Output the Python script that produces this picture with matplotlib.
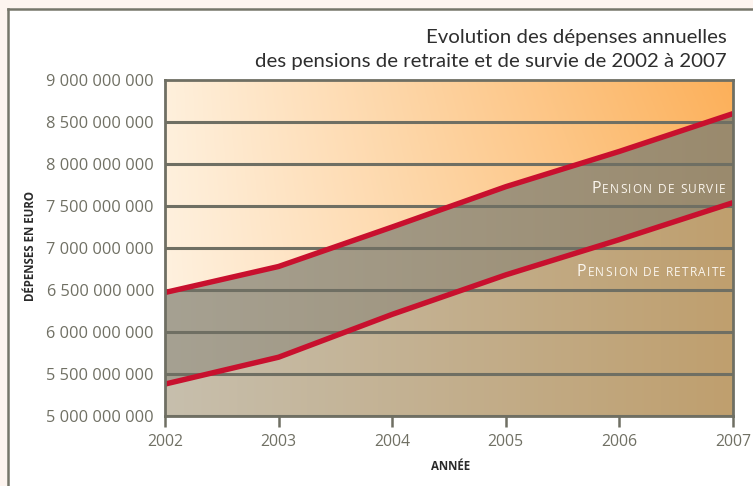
import matplotlib
matplotlib.use('Agg')
import matplotlib.pyplot as plt
import numpy as np
from matplotlib.patches import Polygon, Rectangle
from matplotlib.lines import Line2D
from matplotlib.colors import to_rgb

years = [2002, 2003, 2004, 2005, 2006, 2007]
survie = [6.47e9, 6.78e9, 7.25e9, 7.73e9, 8.15e9, 8.60e9]
retraite = [5.38e9, 5.70e9, 6.21e9, 6.68e9, 7.10e9, 7.54e9]
y_ticks = [5.0e9, 5.5e9, 6.0e9, 6.5e9, 7.0e9, 7.5e9, 8.0e9, 8.5e9, 9.0e9]
y_tick_labels = ['5 000 000 000', '5 500 000 000', '6 000 000 000', '6 500 000 000',
                 '7 000 000 000', '7 500 000 000', '8 000 000 000', '8 500 000 000',
                 '9 000 000 000']
title_lines = ['Evolution des dépenses annuelles',
               'des pensions de retraite et de survie de 2002 à 2007']

W, H = 753, 486
plt.rcParams['font.family'] = ['Open Sans', 'DejaVu Sans']
LATO = ['Lato', 'DejaVu Sans']

fig = plt.figure(figsize=(W / 100, H / 100), dpi=100)
fig.patch.set_facecolor('#fdf4ef')
fig.add_artist(Rectangle((8 / W, 0), 1, 1 - 9 / H, transform=fig.transFigure,
                         facecolor='white', edgecolor='none', zorder=-10))
bc = '#76766a'
fig.add_artist(Line2D([8 / W, 8 / W], [0, 1 - 9 / H], transform=fig.transFigure,
                      color=bc, lw=1.8))
fig.add_artist(Line2D([8 / W, 1], [1 - 9 / H, 1 - 9 / H], transform=fig.transFigure,
                      color=bc, lw=1.8))

ax = fig.add_axes([165 / W, 1 - 416 / H, (733 - 165) / W, (416 - 80) / H])
x0, x1 = years[0], years[-1]
y0, y1 = y_ticks[0], y_ticks[-1]
ax.set_xlim(x0, x1)
ax.set_ylim(y0, y1)


def grad(c_left, c_right, c_tl=None, c_tr=None, n=256):
    cl = np.array(to_rgb(c_left)); cr = np.array(to_rgb(c_right))
    t = np.linspace(0, 1, n)
    row = cl[None, :] * (1 - t[:, None]) + cr[None, :] * t[:, None]
    arr = np.repeat(row[None, :, :], n, axis=0)
    if c_tl is not None:
        ctl = np.array(to_rgb(c_tl)); ctr = np.array(to_rgb(c_tr))
        rowt = ctl[None, :] * (1 - t[:, None]) + ctr[None, :] * t[:, None]
        v = np.linspace(0, 1, n)[:, None, None]
        arr = arr * (1 - v) + rowt[None, :, :] * v
    return arr

ext = [x0, x1, y0, y1]
bg = grad('#fff1e0', '#fdc27a', '#fff0dc', '#fcb05a')
ax.imshow(bg, extent=ext, origin='lower', aspect='auto', zorder=0)

poly_s = Polygon(list(zip(years, survie)) + [(x1, y0), (x0, y0)], closed=True,
                 transform=ax.transData)
im2 = ax.imshow(grad('#a6a192', '#9a8a6d'), extent=ext, origin='lower',
                aspect='auto', zorder=1)
im2.set_clip_path(poly_s)

poly_r = Polygon(list(zip(years, retraite)) + [(x1, y0), (x0, y0)], closed=True,
                 transform=ax.transData)
im3 = ax.imshow(grad('#c7bfad', '#bf9f6e'), extent=ext, origin='lower',
                aspect='auto', zorder=2)
im3.set_clip_path(poly_r)

grid_c = '#6f6f63'
for yv in y_ticks[:-1]:
    ax.axhline(yv, color=grid_c, lw=2.2, zorder=3)

red = '#c8102e'
ax.plot(years, survie, color=red, lw=3.9, zorder=5, solid_capstyle='butt')
ax.plot(years, retraite, color=red, lw=3.9, zorder=5, solid_capstyle='butt')

for s in ax.spines.values():
    s.set_color(grid_c)
    s.set_linewidth(2.0)
    s.set_zorder(6)

ax.set_xticks(years)
ax.set_xticklabels([str(y) for y in years])
ax.set_yticks(y_ticks)
ax.set_yticklabels(y_tick_labels)
tick_c = '#707064'
ax.tick_params(axis='x', direction='out', length=8, width=1.8, color=grid_c,
               labelsize=11.4, labelcolor=tick_c, pad=5)
ax.tick_params(axis='y', length=0, labelsize=11.8, labelcolor=tick_c, pad=8)

fig.text(31 / W, 1 - 246 / H, 'DÉPENSES EN EURO', rotation=90, ha='center',
         va='center', fontsize=8.3, fontweight='bold', color='#2a2a2a')
fig.text(451 / W, 1 - 466 / H, 'ANNÉE', ha='center', va='center',
         fontsize=8.3, fontweight='bold', color='#2a2a2a')

fig.text(727 / W, 1 - 37 / H, title_lines[0], ha='right', va='center',
         fontsize=14.7, color='#2e2e2e', family=LATO)
fig.text(727 / W, 1 - 62 / H, title_lines[1], ha='right', va='center',
         fontsize=14.7, color='#2e2e2e', family=LATO)


def smallcaps(xr, yc, first, rest):
    # letter-spaced small capitals, drawn right to left
    fig.canvas.draw()
    r = fig.canvas.get_renderer()
    x = xr
    for ch in reversed(rest):
        t = fig.text(x / W, 1 - yc / H, ch, ha='right', va='baseline',
                     fontsize=8.6, color='#fbf6ee')
        bb = t.get_window_extent(renderer=r)
        x = bb.x0 - 1.3
    fig.text(x / W, 1 - yc / H, first, ha='right', va='baseline',
             fontsize=11.5, color='#fbf6ee')

smallcaps(726, 193, 'P', 'ENSION DE SURVIE')
smallcaps(726, 276, 'P', 'ENSION DE RETRAITE')

fig.savefig('out.png', dpi=100, facecolor=fig.get_facecolor())
